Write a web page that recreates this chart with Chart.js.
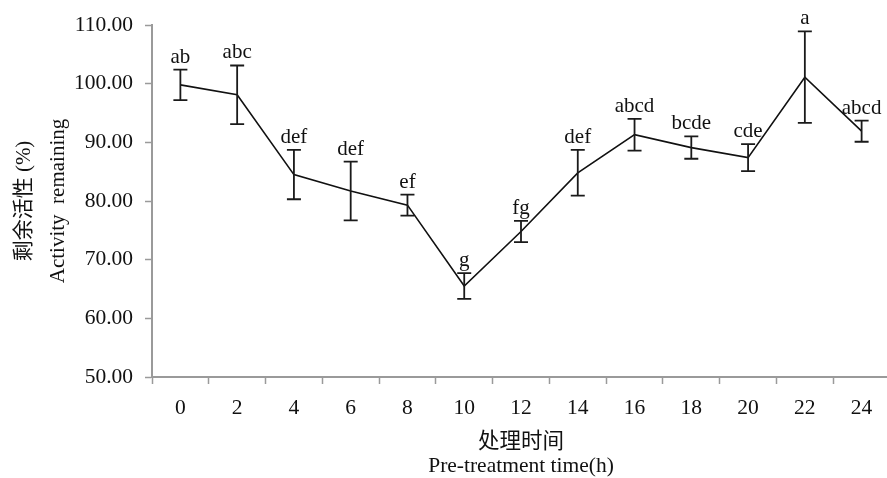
<!DOCTYPE html>
<html>
<head>
<meta charset="utf-8">
<script src="https://cdn.jsdelivr.net/npm/chart.js@4"></script>
<style>
  html, body { margin: 0; padding: 0; background: #fff; overflow: hidden; }
  #wrap { width: 891px; height: 478px; }
</style>
</head>
<body>
<div id="wrap"><canvas id="activityChart"></canvas></div>
<script>
// 处理时间 (h)
const hours = ['0', '2', '4', '6', '8', '10', '12', '14', '16', '18', '20', '22', '24'];
// 剩余活性 (%) 平均值
const activity = [99.8, 98.1, 84.5, 81.7, 79.3, 65.5, 74.8, 84.8, 91.3, 89.1, 87.4, 101.1, 91.9];
// 标准差
const sd = [2.6, 5.0, 4.2, 5.0, 1.8, 2.2, 1.8, 3.9, 2.7, 1.9, 2.3, 7.8, 1.8];
// 显著性字母
const letters = ['ab', 'abc', 'def', 'def', 'ef', 'g', 'fg', 'def', 'abcd', 'bcde', 'cde', 'a', 'abcd'];
const yTicks = [50, 60, 70, 80, 90, 100, 110];

const FONT = "'Liberation Serif', 'Times New Roman', 'Noto Sans CJK SC', serif";
const AXIS_GRAY = '#9a9a9a';

// 误差线 + 字母标注
const errorBarPlugin = {
  id: 'errorBars',
  afterDatasetsDraw(chart) {
    const ctx = chart.ctx;
    const x = chart.scales.x;
    const y = chart.scales.y;
    ctx.save();
    ctx.strokeStyle = '#1a1a1a';
    ctx.lineWidth = 1.8;
    ctx.fillStyle = '#111';
    ctx.font = '21px ' + FONT;
    ctx.textAlign = 'center';
    ctx.textBaseline = 'alphabetic';
    activity.forEach((v, i) => {
      const px = x.getPixelForValue(i);
      const top = y.getPixelForValue(v + sd[i]);
      const bot = y.getPixelForValue(v - sd[i]);
      ctx.beginPath();
      ctx.moveTo(px, top);
      ctx.lineTo(px, bot);
      ctx.moveTo(px - 7, top);
      ctx.lineTo(px + 7, top);
      ctx.moveTo(px - 7, bot);
      ctx.lineTo(px + 7, bot);
      ctx.stroke();
      ctx.fillText(letters[i], px, top - 7);
    });
    ctx.restore();
  }
};

new Chart(document.getElementById('activityChart'), {
  type: 'line',
  data: {
    labels: hours,
    datasets: [{
      data: activity,
      borderColor: '#111',
      borderWidth: 1.6,
      pointRadius: 0,
      tension: 0,
      fill: false
    }]
  },
  options: {
    responsive: true,
    maintainAspectRatio: false,
    animation: false,
    layout: { padding: { top: 25, right: 1, left: 0, bottom: 0 } },
    plugins: {
      legend: { display: false },
      tooltip: { enabled: false }
    },
    scales: {
      x: {
        offset: true,
        afterFit: (scale) => { scale.height = 101; },
        grid: {
          offset: true,
          drawOnChartArea: false,
          drawTicks: true,
          tickLength: 7,
          tickWidth: 1.5,
          tickColor: AXIS_GRAY
        },
        border: { display: true, color: AXIS_GRAY, width: 2 },
        ticks: {
          color: '#111',
          padding: 11,
          maxRotation: 0,
          font: { family: FONT, size: 21.5 }
        },
        title: {
          display: true,
          text: ['处理时间', 'Pre-treatment time(h)'],
          color: '#111',
          font: { family: FONT, size: 21.5, lineHeight: 1.12 },
          padding: { top: 0, bottom: 0 }
        }
      },
      y: {
        min: 50,
        max: 110,
        afterFit: (scale) => { scale.width = 152; },
        afterBuildTicks: (scale) => { scale.ticks = yTicks.map(v => ({ value: v })); },
        grid: {
          drawOnChartArea: false,
          drawTicks: true,
          tickLength: 7,
          tickWidth: 1.5,
          tickColor: AXIS_GRAY
        },
        border: { display: true, color: AXIS_GRAY, width: 2 },
        ticks: {
          color: '#111',
          padding: 12,
          font: { family: FONT, size: 21.5 },
          callback: (value) => Number(value).toFixed(2)
        },
        title: {
          display: true,
          text: ['剩余活性 (%)', 'Activity  remaining'],
          color: '#111',
          font: { family: FONT, size: 21, lineHeight: 1.65 },
          padding: { top: 7, bottom: 0 }
        }
      }
    }
  },
  plugins: [errorBarPlugin]
});
</script>
</body>
</html>
